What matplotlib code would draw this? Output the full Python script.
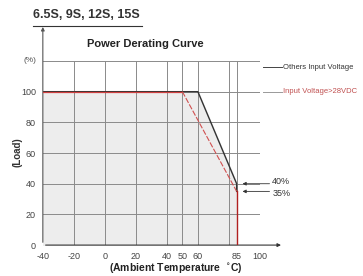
import matplotlib
matplotlib.use("Agg")
import matplotlib.pyplot as plt
import numpy as np

# curve data (temperature in C, load in %)
temp_others = [-40, 60, 85, 85]
load_others = [100, 100, 40, 35]
temp_28v = [-40, 50]
load_28v = [100, 100]
temp_28v_slope = [50, 85]
load_28v_slope = [100, 35]
temp_cut = [85, 85]
load_cut = [35, 0]

xticks = [-40, -20, 0, 20, 40, 50, 60, 85, 100]
xgrid = [-20, 0, 20, 40, 50, 60, 80, 85, 100]
yticks = [0, 20, 40, 60, 80, 100]
ygrid = [20, 40, 60, 80, 100, 120]
notes = [("40%", 40, 41.5), ("35%", 35, 33.5)]

plt.rcParams['font.family'] = ['Liberation Sans', 'DejaVu Sans']

fig = plt.figure(figsize=(3.63, 2.76), dpi=100)
ax = fig.add_axes([0.118, 0.112, 0.598, 0.667])
ax.set_xlim(-40, 100)
ax.set_ylim(0, 120)

# shaded area under the curve
ax.fill_between([-40, 60, 85], [100, 100, 40], 0, color='#ededed', zorder=0)

for x in xgrid:
    ax.plot([x, x], [0, 120], color='#8a8a8a', lw=0.7, zorder=1)
for y in ygrid:
    ax.plot([-40, 100], [y, y], color='#8a8a8a', lw=0.7, zorder=1)

ax.plot(temp_others, load_others, color='#333333', lw=1.0, zorder=3)
ax.plot(temp_28v, load_28v, color='#d04040', lw=0.9, zorder=4)
ax.plot(temp_28v_slope, load_28v_slope, color='#d05050', lw=0.8, ls=(0, (5, 1.5)), zorder=4)
ax.plot(temp_cut, load_cut, color='#b02020', lw=1.0, zorder=4)

for s in ax.spines.values():
    s.set_visible(False)
ax.set_xticks(xticks)
ax.set_xticklabels([str(v) for v in xticks])
ax.set_yticks(yticks)
ax.set_yticklabels([str(v) for v in yticks])
ax.tick_params(length=0, labelsize=6.5, colors='#444444', pad=5)

# axis arrows
ax.annotate('', xy=(0.0, 1.2), xytext=(0.0, 0.0), xycoords='axes fraction',
            arrowprops=dict(arrowstyle='-|>', color='#555555', lw=0.8, mutation_scale=5))
ax.annotate('', xy=(1.11, 0.0), xytext=(0.0, 0.0), xycoords='axes fraction',
            arrowprops=dict(arrowstyle='-|>', color='#333333', lw=0.8, mutation_scale=5))
ax.text(-0.03, 120, '(%)', transform=ax.get_yaxis_transform(), ha='right', va='center',
        fontsize=6, color='#555555')

# percentage notes
for label, y, ty in notes:
    ax.annotate('', xy=(87, y), xytext=(108, y), annotation_clip=False,
                arrowprops=dict(arrowstyle='-|>', color='#333333', lw=0.6, mutation_scale=5))
    ax.text(108, ty, label, fontsize=6.5, color='#333333', va='center', ha='left', clip_on=False)

# legend
ax.plot([102, 114], [116, 116], color='#444444', lw=0.7, clip_on=False)
ax.text(115, 116, 'Others Input Voltage', fontsize=5.5, color='#333333', va='center', clip_on=False)
ax.plot([102, 114], [100, 100], color='#999999', lw=0.7, clip_on=False)
ax.text(115, 100, 'Input Voltage>28VDC', fontsize=5.5, color='#c05050', va='center', clip_on=False)

fig.text(0.09, 0.945, '6.5S, 9S, 12S, 15S', fontsize=9, fontweight='bold', color='#333333', va='center')
fig.add_artist(plt.Line2D([0.09, 0.392], [0.905, 0.905], color='#333333', lw=0.8))
fig.text(0.40, 0.84, 'Power Derating Curve', fontsize=8, fontweight='bold', color='#222222',
         ha='center', va='center')
fig.text(0.047, 0.45, '(Load)', fontsize=7, fontweight='bold', color='#333333', rotation=90,
         ha='center', va='center')
fig.text(0.485, 0.028, '(Ambient Temperature  $^{\\circ}$C)', fontsize=7.5, fontweight='bold',
         color='#222222', ha='center', va='center')

fig.savefig('out.png', dpi=100)
